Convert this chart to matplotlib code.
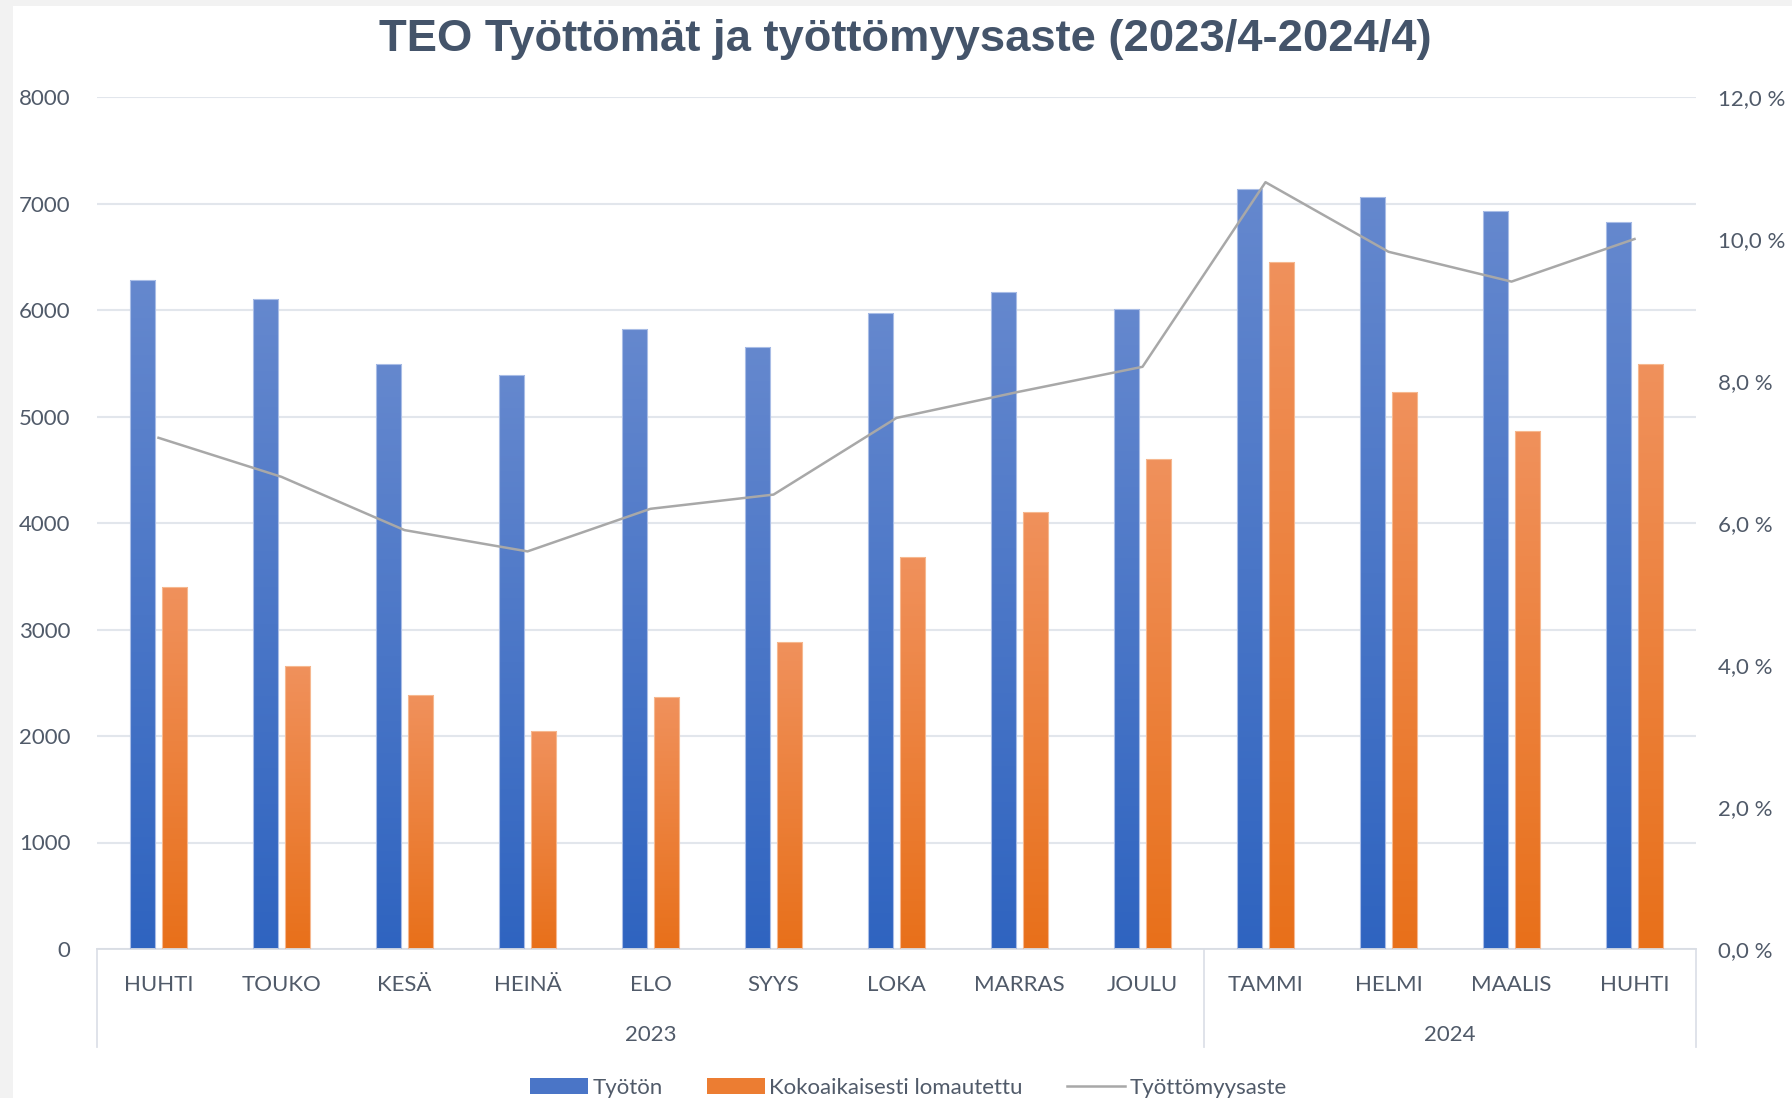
import numpy as np
import matplotlib
matplotlib.use("Agg")
import matplotlib.pyplot as plt
from matplotlib.colors import LinearSegmentedColormap
from matplotlib.patches import Rectangle, Patch
from matplotlib.lines import Line2D
from matplotlib.ticker import FuncFormatter, MultipleLocator
import matplotlib.transforms as mtransforms

months = ["HUHTI", "TOUKO", "KESÄ", "HEINÄ", "ELO", "SYYS", "LOKA",
          "MARRAS", "JOULU", "TAMMI", "HELMI", "MAALIS", "HUHTI"]
years = ["2023", "2024"]
year_counts = [9, 4]
tyoton = [6280, 6105, 5495, 5385, 5820, 5650, 5975, 6165, 6010, 7135, 7060, 6930, 6830]
lomautettu = [3395, 2655, 2385, 2050, 2365, 2880, 3685, 4105, 4600, 6450, 5230, 4865, 5495]
aste = [7.2, 6.65, 5.9, 5.6, 6.2, 6.4, 7.48, 7.85, 8.2, 10.8, 9.82, 9.4, 10.0]

TXT = "#505a69"
GRID = "#e2e6ec"
BLUE = ("#6588ce", "#2f64c0")
ORANGE = ("#f0915c", "#e8701a")
GRAY = "#a8a8a8"
FONT = "Lato"


def grad_bars(ax, bars, top, bottom):
    cmap = LinearSegmentedColormap.from_list("g", [bottom, top])
    g = np.linspace(0, 1, 256).reshape(-1, 1)
    for b in bars:
        x0, y0 = b.get_xy()
        im = ax.imshow(g, extent=(x0, x0 + b.get_width(), y0, y0 + b.get_height()),
                       origin="lower", cmap=cmap, aspect="auto", zorder=2.5,
                       interpolation="bilinear")
        im.set_clip_path(b)


fig = plt.figure(figsize=(17.92, 10.98), dpi=100, facecolor="#f2f2f2")
fig.patches.append(Rectangle((13 / 1792, 0), 1, 1 - 6 / 1098, transform=fig.transFigure,
                             facecolor="white", edgecolor="none", zorder=-10))
ax = fig.add_axes([97 / 1792, 1 - 949 / 1098, (1696 - 97) / 1792, (949 - 97) / 1098])
ax.set_facecolor("white")

x = np.arange(len(months))
w, off = 0.205, 0.13
b1 = ax.bar(x - off, tyoton, w, facecolor="none", edgecolor="#a9bde6", lw=0.8, zorder=3)
b2 = ax.bar(x + off, lomautettu, w, facecolor="none", edgecolor="#f6b890", lw=0.8, zorder=3)
grad_bars(ax, b1, *BLUE)
grad_bars(ax, b2, *ORANGE)

ax.set_xlim(-0.5, len(months) - 0.5)
ax.set_ylim(0, 8000)
ax.yaxis.set_major_locator(MultipleLocator(1000))
ax.grid(axis="y", color=GRID, lw=1.5, zorder=0)
ax.set_axisbelow(True)
for s in ["top", "left", "right"]:
    ax.spines[s].set_visible(False)
ax.spines["bottom"].set_color("#d9dde4")
ax.spines["bottom"].set_linewidth(1.3)
ax.set_xticks(x)
ax.set_xticklabels(months, fontsize=16, color=TXT, family=FONT)
ax.tick_params(axis="x", length=0, pad=19)
ax.tick_params(axis="y", length=0, pad=19, labelsize=16, labelcolor=TXT)
for t in ax.get_yticklabels():
    t.set_family(FONT)

# year group labels and separators
tr = mtransforms.blended_transform_factory(ax.transData, ax.transAxes)
edges = np.concatenate([[0], np.cumsum(year_counts)]) - 0.5
for e in edges:
    ax.plot([e, e], [0, -0.115], transform=tr, color="#dde1e8", lw=1.3, clip_on=False)
for yl, a, b in zip(years, edges[:-1], edges[1:]):
    ax.text((a + b) / 2, -0.101, yl, transform=tr, ha="center", va="center",
            fontsize=16, color=TXT, family=FONT)

ax2 = ax.twinx()
ax2.plot(x, aste, color=GRAY, lw=1.8, zorder=5)
ax2.set_ylim(0, 12)
ax2.yaxis.set_major_locator(MultipleLocator(2))
ax2.yaxis.set_major_formatter(FuncFormatter(lambda v, p: f"{v:.1f}".replace(".", ",") + " %"))
for s in ax2.spines.values():
    s.set_visible(False)
ax2.tick_params(axis="y", length=0, pad=16, labelsize=16, labelcolor=TXT)
for t in ax2.get_yticklabels():
    t.set_family(FONT)

fig.text(0.505, 1 - 40 / 1098, "TEO Työttömät ja työttömyysaste (2023/4-2024/4)",
         ha="center", va="center", fontsize=32.7, fontweight="bold", color="#44546a",
         family="Liberation Sans")

handles = [Patch(facecolor="#4a75c7", edgecolor="none"),
           Patch(facecolor="#ec7d32", edgecolor="none"),
           Line2D([], [], color=GRAY, lw=1.8)]
fig.legend(handles, ["Työtön", "Kokoaikaisesti lomautettu", "Työttömyysaste"],
           loc="center", bbox_to_anchor=(0.507, 1 - 1088 / 1098), ncol=3, frameon=False,
           prop={"family": FONT, "size": 16}, labelcolor=TXT, handlelength=2.6,
           handletextpad=0.2, columnspacing=2.0)

fig.savefig("out.png", dpi=100, facecolor=fig.get_facecolor())
